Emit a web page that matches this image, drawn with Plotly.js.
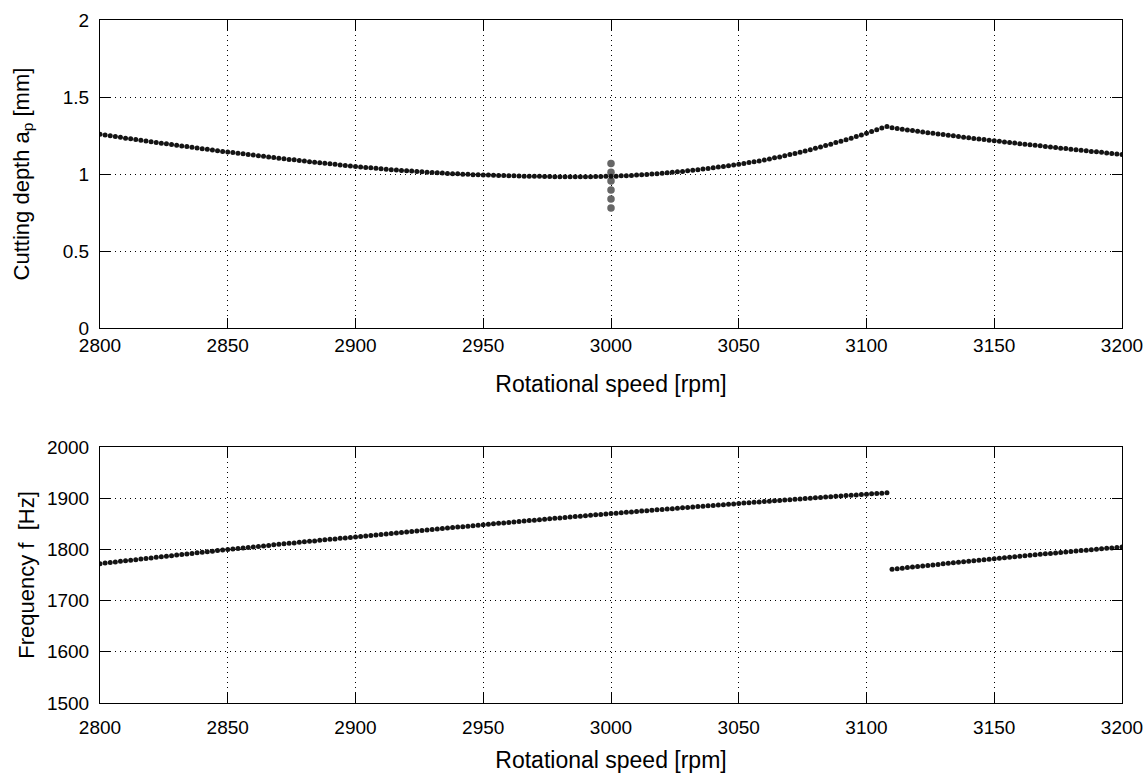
<!DOCTYPE html>
<html>
<head>
<meta charset="utf-8">
<script src="https://cdn.plot.ly/plotly-3.0.1.min.js"></script>
<style>html,body{margin:0;padding:0;background:#fff;}#chart{width:1148px;height:777px;}</style>
</head>
<body>
<div id="chart"></div>
<script>
// Rotational speed [rpm]
const rpm = [
2800,2802,2804,2806,2808,2810,2812,2814,2816,2818,
2820,2822,2824,2826,2828,2830,2832,2834,2836,2838,
2840,2842,2844,2846,2848,2850,2852,2854,2856,2858,
2860,2862,2864,2866,2868,2870,2872,2874,2876,2878,
2880,2882,2884,2886,2888,2890,2892,2894,2896,2898,
2900,2902,2904,2906,2908,2910,2912,2914,2916,2918,
2920,2922,2924,2926,2928,2930,2932,2934,2936,2938,
2940,2942,2944,2946,2948,2950,2952,2954,2956,2958,
2960,2962,2964,2966,2968,2970,2972,2974,2976,2978,
2980,2982,2984,2986,2988,2990,2992,2994,2996,2998,
3000,3002,3004,3006,3008,3010,3012,3014,3016,3018,
3020,3022,3024,3026,3028,3030,3032,3034,3036,3038,
3040,3042,3044,3046,3048,3050,3052,3054,3056,3058,
3060,3062,3064,3066,3068,3070,3072,3074,3076,3078,
3080,3082,3084,3086,3088,3090,3092,3094,3096,3098,
3100,3102,3104,3106,3108,3110,3112,3114,3116,3118,
3120,3122,3124,3126,3128,3130,3132,3134,3136,3138,
3140,3142,3144,3146,3148,3150,3152,3154,3156,3158,
3160,3162,3164,3166,3168,3170,3172,3174,3176,3178,
3180,3182,3184,3186,3188,3190,3192,3194,3196,3198,
3200];

// Cutting depth a_p [mm]
const depth = [
1.258,1.253,1.248,1.243,1.238,1.233,1.229,1.224,1.219,1.214,
1.210,1.205,1.200,1.196,1.191,1.187,1.182,1.178,1.173,1.169,
1.164,1.160,1.156,1.151,1.147,1.143,1.139,1.135,1.131,1.127,
1.123,1.119,1.115,1.111,1.107,1.103,1.099,1.095,1.092,1.088,
1.084,1.080,1.077,1.073,1.070,1.066,1.063,1.059,1.056,1.052,
1.049,1.046,1.043,1.040,1.037,1.034,1.031,1.028,1.026,1.023,
1.021,1.019,1.016,1.014,1.012,1.010,1.008,1.006,1.004,1.002,
1.001,0.999,0.998,0.996,0.995,0.994,0.993,0.992,0.991,0.990,
0.989,0.988,0.987,0.986,0.986,0.985,0.985,0.984,0.984,0.983,
0.983,0.983,0.983,0.983,0.983,0.983,0.983,0.984,0.984,0.985,
0.985,0.986,0.988,0.989,0.991,0.993,0.995,0.997,1.000,1.002,
1.005,1.008,1.011,1.014,1.017,1.021,1.024,1.028,1.032,1.036,
1.040,1.045,1.049,1.054,1.058,1.063,1.068,1.074,1.080,1.085,
1.091,1.098,1.105,1.111,1.118,1.126,1.133,1.141,1.149,1.158,
1.167,1.176,1.185,1.194,1.204,1.213,1.223,1.233,1.244,1.254,
1.265,1.276,1.287,1.298,1.309,1.300,1.295,1.291,1.286,1.282,
1.277,1.273,1.268,1.264,1.260,1.256,1.252,1.248,1.243,1.239,
1.235,1.231,1.227,1.224,1.220,1.216,1.212,1.208,1.205,1.201,
1.197,1.194,1.190,1.186,1.183,1.179,1.175,1.172,1.168,1.165,
1.161,1.158,1.154,1.151,1.147,1.144,1.141,1.137,1.134,1.130,
1.127];

// Frequency f [Hz]
const freq = [
1772.0,1773.1,1774.3,1775.4,1776.6,1777.7,1778.8,1779.9,1781.1,1782.2,
1783.3,1784.4,1785.5,1786.6,1787.7,1788.8,1789.9,1791.0,1792.1,1793.2,
1794.3,1795.3,1796.4,1797.5,1798.5,1799.6,1800.6,1801.6,1802.7,1803.7,
1804.7,1805.7,1806.7,1807.7,1808.7,1809.7,1810.7,1811.7,1812.6,1813.6,
1814.6,1815.6,1816.5,1817.5,1818.5,1819.5,1820.4,1821.4,1822.3,1823.3,
1824.3,1825.2,1826.2,1827.2,1828.2,1829.1,1830.1,1831.1,1832.0,1833.0,
1833.9,1834.9,1835.8,1836.8,1837.7,1838.7,1839.6,1840.5,1841.5,1842.4,
1843.4,1844.3,1845.2,1846.1,1847.1,1848.0,1848.9,1849.8,1850.7,1851.6,
1852.6,1853.4,1854.3,1855.2,1856.1,1857.0,1857.9,1858.8,1859.6,1860.5,
1861.4,1862.2,1863.1,1863.9,1864.8,1865.6,1866.4,1867.3,1868.1,1868.9,
1869.8,1870.6,1871.4,1872.2,1873.0,1873.9,1874.7,1875.5,1876.3,1877.1,
1877.9,1878.7,1879.4,1880.2,1881.0,1881.8,1882.6,1883.4,1884.2,1884.9,
1885.7,1886.5,1887.2,1888.0,1888.7,1889.5,1890.3,1891.0,1891.8,1892.5,
1893.3,1894.0,1894.7,1895.5,1896.2,1897.0,1897.7,1898.4,1899.1,1899.9,
1900.6,1901.3,1902.0,1902.7,1903.5,1904.2,1904.9,1905.6,1906.3,1907.0,
1907.7,1908.4,1909.0,1909.7,1910.4,1761.1,1762.2,1763.2,1764.3,1765.4,
1766.5,1767.5,1768.5,1769.6,1770.6,1771.7,1772.7,1773.7,1774.7,1775.7,
1776.7,1777.7,1778.7,1779.7,1780.7,1781.7,1782.6,1783.6,1784.5,1785.5,
1786.5,1787.4,1788.3,1789.3,1790.2,1791.2,1792.1,1793.0,1793.9,1794.8,
1795.7,1796.6,1797.5,1798.4,1799.3,1800.2,1801.0,1801.9,1802.7,1803.6,
1804.5];

// grey test points at 3000 rpm
const testRpm = [3000, 3000, 3000, 3000, 3000, 3000];
const testDepth = [1.069, 1.011, 0.955, 0.896, 0.838, 0.779];

const xTicks = [2800, 2850, 2900, 2950, 3000, 3050, 3100, 3150, 3200];
const yTopTicks = [0, 0.5, 1, 1.5, 2];
const yTopLabels = ['0', '0.5', '1', '1.5', '2'];
const yBotTicks = [1500, 1600, 1700, 1800, 1900, 2000];

const FONT = 'Liberation Sans, Arial, Helvetica, sans-serif';

const traces = [
  {x: testRpm, y: testDepth, xaxis: 'x', yaxis: 'y', type: 'scatter', mode: 'markers',
   marker: {color: '#666666', size: 7.5}, hoverinfo: 'skip'},
  {x: rpm, y: depth, xaxis: 'x', yaxis: 'y', type: 'scatter', mode: 'markers',
   marker: {color: '#141414', size: 5}},
  {x: rpm, y: freq, xaxis: 'x2', yaxis: 'y2', type: 'scatter', mode: 'markers',
   marker: {color: '#141414', size: 5}}
];

function xax(anchor, labelOff, titleOff) {
  return {
    anchor: anchor, range: [2800, 3200], tickvals: xTicks, ticktext: xTicks.map(String),
    showgrid: true, gridcolor: '#000', gridwidth: 1, griddash: '1px,4px',
    ticks: 'inside', ticklen: 10, tickwidth: 1, tickcolor: '#000',
    showline: true, linecolor: '#000', linewidth: 1, mirror: 'ticks', zeroline: false,
    ticklabelstandoff: labelOff,
    tickfont: {family: FONT, size: 19, color: '#000'},
    title: {text: 'Rotational speed [rpm]', font: {family: FONT, size: 23, color: '#000'}, standoff: titleOff}
  };
}
function yax(anchor, range, tv, tt, title, domain, titleOff) {
  return {
    anchor: anchor, domain: domain, range: range, tickvals: tv, ticktext: tt,
    showgrid: true, gridcolor: '#000', gridwidth: 1, griddash: '1px,4px',
    ticks: 'inside', ticklen: 10, tickwidth: 1, tickcolor: '#000',
    showline: true, linecolor: '#000', linewidth: 1, mirror: 'ticks', zeroline: false,
    ticklabelstandoff: 6,
    tickfont: {family: FONT, size: 19, color: '#000'},
    title: {text: title, font: {family: FONT, size: 22, color: '#000'}, standoff: titleOff}
  };
}

const layout = {
  width: 1148, height: 777,
  margin: {l: 100, r: 26, t: 20, b: 74},
  paper_bgcolor: '#fff', plot_bgcolor: '#fff',
  showlegend: false,
  xaxis: xax('y', 0, 21),
  yaxis: yax('x', [0, 2], yTopTicks, yTopLabels, 'Cutting depth a<sub>p</sub> [mm]', [0.549, 1], 27),
  xaxis2: xax('y2', 7, 15),
  yaxis2: yax('x2', [1500, 2000], yBotTicks, yBotTicks.map(String), 'Frequency f\u00a0\u00a0[Hz]', [0, 0.375], 6)
};

Plotly.newPlot('chart', traces, layout, {staticPlot: true, displayModeBar: false});
</script>
</body>
</html>
